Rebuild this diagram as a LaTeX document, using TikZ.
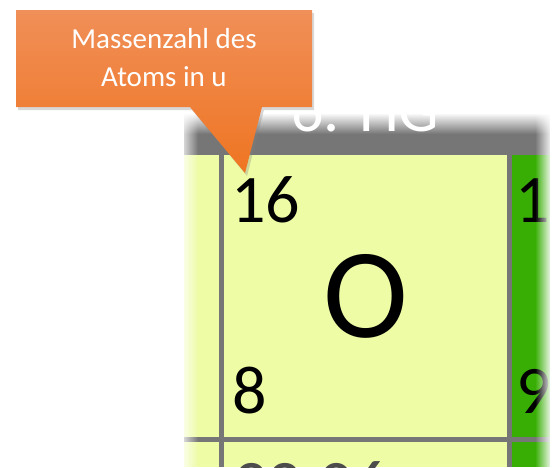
\documentclass[tikz,border=0pt]{standalone}
\usepackage{fontspec}
\setmainfont{Carlito}
\usetikzlibrary{fadings,shadows}

\definecolor{cellyellow}{HTML}{EEFCA6}
\definecolor{cellgreen}{HTML}{38AE04}
\definecolor{gridgray}{HTML}{767676}
\definecolor{calltop}{HTML}{F08F58}
\definecolor{callbot}{HTML}{EF7522}

\tikzfading[name=fadeleft, left color=transparent!0, right color=transparent!100]
\tikzfading[name=faderight, left color=transparent!100, right color=transparent!0]
\tikzfading[name=fadetop, top color=transparent!0, bottom color=transparent!100]

\begin{document}
\begin{tikzpicture}[
  x=1pt, y=-1pt,
  num/.style={inner sep=0pt, anchor=base west, font=\fontsize{68}{68}\selectfont},
  grid/.style={draw=gridgray, line width=4.5pt},
  callout/.style={top color=calltop, bottom color=callbot,
    drop shadow={opacity=0.3, shadow xshift=2pt, shadow yshift=-3pt}},
  calltext/.style={text=white, align=center, inner sep=0pt, font=\fontsize{29}{38}\selectfont}
]
\useasboundingbox (0,0) rectangle (555,467);
\clip (0,0) rectangle (555,467);
\fill[white] (0,0) rectangle (555,467);

% cut-out of the table
\fill[cellyellow] (184,150) rectangle (550,467);
\fill[cellgreen] (512,150) rectangle (550,467);
\fill[gridgray] (184,105) rectangle (550,155);
\draw[grid] (221.5,155) -- (221.5,467);
\draw[grid] (509.5,155) -- (509.5,467);
\draw[grid] (184,439.5) -- (550,439.5);

\node[num, font=\fontsize{64}{64}\selectfont, text=white] (group) at (291,131) {6. HG};
\node[num] (mass) at (231,222) {16};
\node[num] (atomic) at (232,413) {8};
\node[inner sep=0pt, anchor=base, font=\fontsize{128}{128}\selectfont] (symbol) at (366,337) {O};
\node[num] (massright) at (515,222) {1};
\node[num] (atomicright) at (516,413) {9};
\node[num, text=gray!60!black] (massbelow) at (233,507) {32,06};

% soft edges
\fill[white, path fading=fadeleft] (178,95) rectangle (198,467);
\fill[white, path fading=faderight] (535,95) rectangle (552,467);
\fill[white] (552,95) rectangle (555,467);
\fill[white] (178,95) rectangle (552,113);
\fill[white, path fading=fadetop] (178,113) rectangle (552,134);

% callout
\coordinate (tip) at (245,173);
\path[callout] (16,10) -- (312,10) -- (312,107) -- (262,107) -- (tip) -- (190,107) -- (16,107) -- cycle;
\node[calltext] (label) at (164,58) {Massenzahl des\\Atoms in u};

\end{tikzpicture}
\end{document}
